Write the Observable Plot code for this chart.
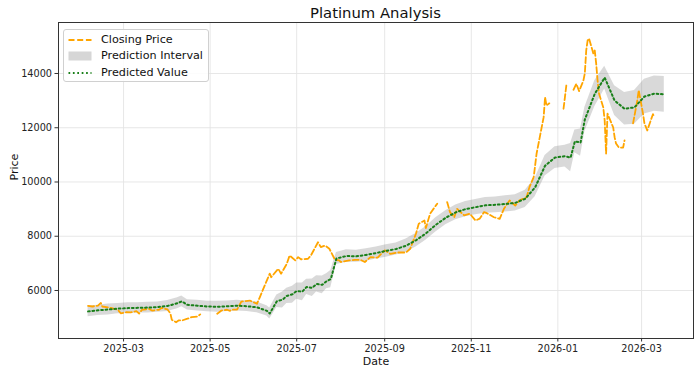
<!DOCTYPE html>
<html>
<head>
<meta charset="utf-8">
<script src="https://cdn.jsdelivr.net/npm/d3@7"></script>
<script src="https://cdn.jsdelivr.net/npm/@observablehq/plot@0.6"></script>
<style>
  html, body { margin: 0; padding: 0; background: #fff; }
  #wrap { position: relative; width: 700px; height: 376px; font-family: "DejaVu Sans", sans-serif; }
  #title { position: absolute; left: 58px; width: 635px; top: 4px; line-height: 17px; text-align: center; font-size: 14.8px; color: #111; }
  #legend { position: absolute; left: 63px; top: 29px; width: 144px; height: 51px; border: 1px solid #d0d0d0; border-radius: 3px; background: rgba(255,255,255,0.85); font-size: 11.2px; color: #111; }
  .row { position: absolute; left: 0; height: 16px; line-height: 16px; width: 144px; }
  .row svg { position: absolute; left: 4px; top: 3px; }
  .row span { position: absolute; left: 37px; top: 0; white-space: nowrap; }
</style>
</head>
<body>
<div id="wrap">
  <div id="chart"></div>
  <div id="title">Platinum Analysis</div>
  <div id="legend"></div>
</div>
<script>
// ---- Data ----
const closeDates = [
  "2025-02-04","2025-02-07","2025-02-11","2025-02-13","2025-02-14","2025-02-20","2025-02-25","2025-02-27",
  "2025-03-03","2025-03-06","2025-03-10","2025-03-12","2025-03-14","2025-03-19","2025-03-21","2025-03-26","2025-03-28",
  "2025-04-01","2025-04-03","2025-04-04","2025-04-07","2025-04-09","2025-04-11","2025-04-15","2025-04-18","2025-04-22","2025-04-24","2025-04-29",
  "2025-05-06","2025-05-09","2025-05-13","2025-05-15","2025-05-16","2025-05-20","2025-05-23","2025-05-29",
  "2025-06-03","2025-06-05","2025-06-09","2025-06-12","2025-06-13","2025-06-18","2025-06-20","2025-06-24","2025-06-26","2025-06-30",
  "2025-07-02","2025-07-04","2025-07-09","2025-07-11","2025-07-16","2025-07-18","2025-07-21","2025-07-24","2025-07-28","2025-07-31",
  "2025-08-01","2025-08-07","2025-08-11","2025-08-15","2025-08-18","2025-08-22","2025-08-27",
  "2025-09-01","2025-09-05","2025-09-10","2025-09-16","2025-09-19","2025-09-23","2025-09-25","2025-09-29","2025-09-30",
  "2025-10-03","2025-10-07","2025-10-08","2025-10-13","2025-10-15","2025-10-17","2025-10-20","2025-10-22","2025-10-27","2025-10-31",
  "2025-11-04","2025-11-07","2025-11-10","2025-11-12","2025-11-17","2025-11-21","2025-11-24","2025-11-28",
  "2025-12-02","2025-12-05","2025-12-10","2025-12-12","2025-12-15","2025-12-17","2025-12-22","2025-12-23","2025-12-24","2025-12-26","2025-12-31",
  "2026-01-05","2026-01-06","2026-01-07","2026-01-09","2026-01-12","2026-01-14","2026-01-16","2026-01-19","2026-01-20","2026-01-21","2026-01-22","2026-01-23","2026-01-26","2026-01-27","2026-01-28","2026-01-29","2026-01-30",
  "2026-02-02","2026-02-03","2026-02-04","2026-02-05","2026-02-09","2026-02-10","2026-02-11","2026-02-13","2026-02-16","2026-02-17","2026-02-20","2026-02-23","2026-02-26","2026-02-27",
  "2026-03-02","2026-03-03","2026-03-05","2026-03-09","2026-03-10"
];
const closeValues = [
  5430,5410,5440,5540,5410,5360,5290,5160,
  5200,5190,5240,5150,5290,5320,5260,5290,5360,
  5300,5150,4920,4830,4900,4890,4960,5020,5040,5120,null,
  5140,5260,5290,5250,5290,5300,5590,5630,
  5510,5750,6250,6620,6490,6800,6620,6980,7290,7110,
  7230,7150,7170,7290,7780,7600,7660,7540,7130,7110,
  7050,7110,7130,7130,7050,7230,7210,
  7480,7350,7400,7400,7540,8090,8460,8580,8300,
  8830,9130,9200,null,9260,8890,8700,9010,8770,8830,
  8580,8650,8890,8850,8700,8640,9010,9320,
  9130,9320,9440,9810,10180,11040,12390,13130,12820,12900,null,
  12700,13130,13570,null,13400,13620,13350,13740,14000,14850,15220,15290,14740,14850,14370,13740,13260,
  12750,12270,11050,12520,12010,11650,11420,11270,11270,11530,null,12160,13010,13380,
  12520,12160,11900,12500,12400
];

const predDates = [
  "2025-02-04","2025-02-11","2025-02-18","2025-02-25","2025-03-04","2025-03-11","2025-03-18","2025-03-25",
  "2025-04-01","2025-04-08","2025-04-11","2025-04-15","2025-04-22","2025-04-29","2025-05-06","2025-05-13",
  "2025-05-20","2025-05-27","2025-06-03","2025-06-10","2025-06-12","2025-06-17","2025-06-21","2025-06-24","2025-06-28","2025-07-01",
  "2025-07-05","2025-07-08","2025-07-12","2025-07-15","2025-07-19","2025-07-22","2025-07-25","2025-07-29","2025-08-05","2025-08-12","2025-08-19",
  "2025-08-26","2025-09-02","2025-09-09","2025-09-16","2025-09-23","2025-09-30","2025-10-07","2025-10-14",
  "2025-10-21","2025-10-28","2025-11-04","2025-11-11","2025-11-18","2025-11-25","2025-12-02","2025-12-09",
  "2025-12-16","2025-12-23","2025-12-30","2026-01-06","2026-01-10","2026-01-13","2026-01-17","2026-01-20","2026-01-27","2026-02-03",
  "2026-02-10","2026-02-17","2026-02-24","2026-03-03","2026-03-10","2026-03-17"
];
const predValues = [
  5230,5270,5300,5330,5350,5360,5370,5390,
  5430,5530,5600,5470,5440,5410,5400,5420,
  5440,5420,5380,5250,5150,5600,5660,5800,5860,5980,
  5960,6130,6100,6240,6210,6340,6420,7180,7270,7260,7310,
  7380,7460,7530,7650,7850,8100,8420,8680,
  8880,9000,9070,9140,9160,9190,9230,9380,
  9800,10600,10900,10950,10900,11500,11450,12300,13250,13850,
  13000,12700,12750,13150,13260,13230
];
const predLower = [
  5030,5080,5100,5140,5150,5170,5170,5200,
  5230,5330,5400,5280,5240,5220,5200,5230,
  5240,5230,5180,5060,4950,5370,5350,5520,5530,5680,
  5620,5850,5780,5940,5880,6060,6100,6960,7040,7040,7080,
  7160,7230,7310,7400,7600,7850,8160,8420,
  8610,8720,8790,8850,8870,8890,8930,9060,
  9460,10220,10500,10550,10380,11080,10950,11850,12770,13430,
  12450,12100,12130,12510,12610,12570
];
const predUpper = [
  5430,5460,5500,5520,5550,5550,5570,5580,
  5630,5730,5800,5660,5640,5600,5600,5610,
  5640,5610,5580,5440,5350,5830,5940,6080,6160,6280,
  6280,6410,6420,6540,6530,6620,6740,7400,7500,7480,7540,
  7600,7690,7750,7900,8100,8350,8680,8940,
  9150,9280,9350,9430,9450,9490,9530,9700,
  10140,10980,11300,11350,11420,11920,11950,12750,13730,14270,
  13550,13300,13370,13790,13910,13890
];

const yTicks = [6000, 8000, 10000, 12000, 14000];
const xTickLabels = ["2025-03","2025-05","2025-07","2025-09","2025-11","2026-01","2026-03"];
const legendLabels = ["Closing Price", "Prediction Interval", "Predicted Value"];

// ---- Build tables ----
const closeData = closeDates.map((d, i) => ({date: new Date(d), value: closeValues[i]}));
const predData = predDates.map((d, i) => ({date: new Date(d), value: predValues[i], lo: predLower[i], hi: predUpper[i]}));
const xTicks = xTickLabels.map(s => new Date(s + "-01"));

const orange = "#FFA500";
const green = "#1a801a";
const band = "#808080";

const chart = Plot.plot({
  width: 700,
  height: 376,
  marginTop: 22,
  marginBottom: 38,
  marginLeft: 58,
  marginRight: 7,
  style: {fontFamily: "DejaVu Sans, sans-serif", fontSize: "9.7px", color: "#222", background: "white", overflow: "visible"},
  x: {type: "utc", domain: [new Date("2025-01-14T04:00Z"), new Date("2026-04-06T14:00Z")]},
  y: {domain: [4230, 15880]},
  marks: [
    Plot.gridX(xTicks, {stroke: "#e4e4e4", strokeOpacity: 1, strokeWidth: 0.9}),
    Plot.gridY(yTicks, {stroke: "#e4e4e4", strokeOpacity: 1, strokeWidth: 0.9}),
    Plot.areaY(predData, {x: "date", y1: "lo", y2: "hi", fill: band, fillOpacity: 0.3, curve: "linear"}),
    Plot.line(closeData, {x: "date", y: "value", stroke: orange, strokeWidth: 1.8, strokeDasharray: "6,2.7", curve: "linear"}),
    Plot.line(predData, {x: "date", y: "value", stroke: green, strokeWidth: 2, strokeDasharray: "1.7,2.7", curve: "linear"}),
    Plot.frame({stroke: "#333", strokeWidth: 1}),
    Plot.axisX(xTicks, {tickFormat: d3.utcFormat("%Y-%m"), tickSize: 3.5, tickPadding: 3, label: null, stroke: "#333"}),
    Plot.axisY(yTicks, {tickFormat: d => String(d), tickSize: 3.5, tickPadding: 3, label: null, stroke: "#333"}),
    Plot.text(["Date"], {text: d => d, frameAnchor: "bottom", dy: 26, fontSize: 11, fill: "#111"}),
    Plot.text(["Price"], {text: d => d, frameAnchor: "left", dx: -44, rotate: -90, fontSize: 11, fill: "#111"})
  ]
});
document.getElementById("chart").appendChild(chart);

// ---- Legend ----
const legend = document.getElementById("legend");
const centers = [9.5, 26, 42.5];
const handles = [
  `<svg width="24" height="10"><line x1="0.5" y1="5" x2="23.5" y2="5" stroke="${orange}" stroke-width="1.8" stroke-dasharray="6,2.7"/></svg>`,
  `<svg width="24" height="10"><rect x="0.5" y="0.5" width="23" height="9" fill="${band}" fill-opacity="0.32"/></svg>`,
  `<svg width="24" height="10"><line x1="0.5" y1="5" x2="23.5" y2="5" stroke="${green}" stroke-width="2" stroke-dasharray="1.7,2.7"/></svg>`
];
legendLabels.forEach((lab, i) => {
  const row = document.createElement("div");
  row.className = "row";
  row.style.top = (centers[i] - 8) + "px";
  row.innerHTML = handles[i] + `<span>${lab}</span>`;
  legend.appendChild(row);
});
</script>
</body>
</html>
